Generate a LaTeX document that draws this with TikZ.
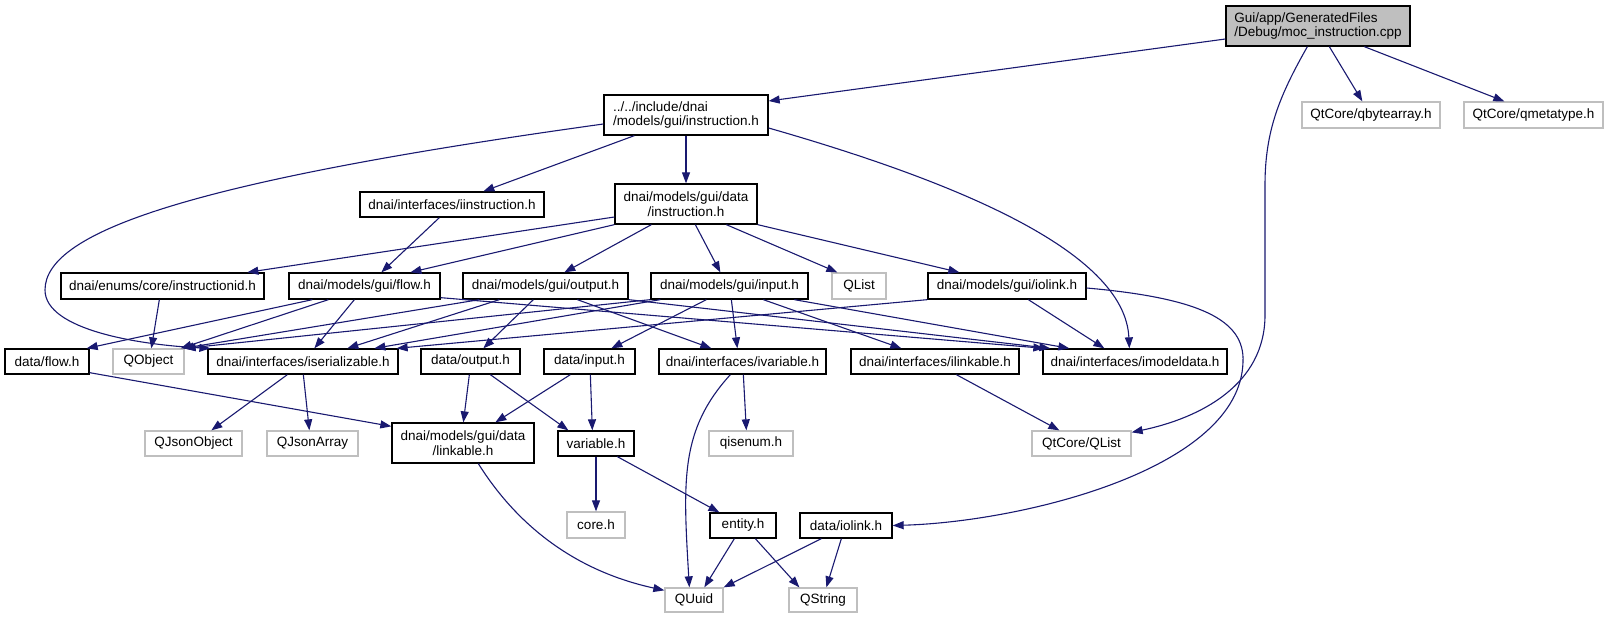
\documentclass[tikz,border=0pt]{standalone}
\usepackage{fontspec}
\setmainfont{Liberation Sans}
\usetikzlibrary{arrows.meta}
\definecolor{edgeblue}{HTML}{191970}
\definecolor{extgray}{HTML}{BFBFBF}
\tikzset{
  boxbase/.style={line width=1.3pt, fill=white, inner sep=0pt, font=\fontsize{13.5}{14.5}\selectfont},
  hdr/.style={boxbase, draw=black},
  ext/.style={boxbase, draw=extgray},
  root/.style={boxbase, draw=black, fill=extgray},
  dep/.style={draw=edgeblue, line width=1.1pt, -{Triangle[length=11pt,width=8pt]}}
}
\newcommand{\mybox}[7]{\node[#1, minimum width={#4-#3}, minimum height={#6-#5}] (#2) at ({(#3+#4)/2},{(#5+#6)/2}) {#7};}
\begin{document}
\begin{tikzpicture}[x=1pt,y=-1pt]
\useasboundingbox (0,0) rectangle (1609,619);
% rank 0/1
\mybox{root,align=left}{moc}{1226}{1410}{6}{46}{Gui/app/GeneratedFiles\\/Debug/moc\_instruction.cpp}
\mybox{hdr,align=left}{instr}{604}{768}{95}{135}{../../include/dnai\\/models/gui/instruction.h}
\mybox{ext}{qba}{1302}{1440}{102}{128}{QtCore/qbytearray.h}
\mybox{ext}{qmt}{1464}{1603}{102}{128}{QtCore/qmetatype.h}
% rank 2
\mybox{hdr}{iinstr}{360}{544}{192}{217}{dnai/interfaces/iinstruction.h}
\mybox{hdr,align=center}{datainstr}{615}{757}{184}{224}{dnai/models/gui/data\\/instruction.h}
% rank 3
\mybox{hdr}{instrid}{61}{264}{273}{299}{dnai/enums/core/instructionid.h}
\mybox{hdr}{flow}{289}{440}{273}{299}{dnai/models/gui/flow.h}
\mybox{hdr}{output}{463}{628}{273}{299}{dnai/models/gui/output.h}
\mybox{hdr}{input}{651}{808}{273}{299}{dnai/models/gui/input.h}
\mybox{ext}{qlist}{832}{886}{273}{299}{QList}
\mybox{hdr}{iolink}{928}{1086}{273}{299}{dnai/models/gui/iolink.h}
% rank 4
\mybox{hdr}{dataflow}{5}{89}{349}{374}{data/flow.h}
\mybox{ext}{qobject}{113}{184}{349}{374}{QObject}
\mybox{hdr}{iser}{208}{398}{349}{374}{dnai/interfaces/iserializable.h}
\mybox{hdr}{dataoutput}{421}{520}{349}{374}{data/output.h}
\mybox{hdr}{datainput}{544}{635}{349}{374}{data/input.h}
\mybox{hdr}{ivar}{659}{826}{349}{374}{dnai/interfaces/ivariable.h}
\mybox{hdr}{ilink}{851}{1019}{349}{374}{dnai/interfaces/ilinkable.h}
\mybox{hdr}{imodel}{1043}{1227}{349}{374}{dnai/interfaces/imodeldata.h}
% rank 5
\mybox{ext}{qjo}{145}{242}{431}{456}{QJsonObject}
\mybox{ext}{qja}{267}{358}{431}{456}{QJsonArray}
\mybox{hdr,align=center}{linkable}{392}{534}{423}{463}{dnai/models/gui/data\\/linkable.h}
\mybox{hdr}{variable}{558}{634}{431}{456}{variable.h}
\mybox{ext}{qisenum}{709}{793}{431}{456}{qisenum.h}
\mybox{ext}{qtlist}{1032}{1131}{431}{456}{QtCore/QList}
% rank 6
\mybox{ext}{core}{567}{625}{512}{538}{core.h}
\mybox{hdr}{entity}{710}{776}{513}{538}{entity.h}
\mybox{hdr}{dataiolink}{800}{892}{513}{538}{data/iolink.h}
% rank 7
\mybox{ext}{quuid}{665}{723}{588}{612}{QUuid}
\mybox{ext}{qstring}{789}{857}{588}{612}{QString}

% edges from moc
\draw[dep] ([yshift=-13pt]moc.west) -- ([yshift=14pt]instr.east);
\draw[dep] ([xshift=104pt]moc.south west) -- ([xshift=61pt]qba.north west);
\draw[dep] ([xshift=139pt]moc.south west) -- ([xshift=41pt]qmt.north west);
\draw[dep] ([xshift=82pt]moc.south west) .. controls (1280,95) and (1265,130) .. (1265,185) -- (1265,315) .. controls (1265,385) and (1200,418) .. ([yshift=-2pt]qtlist.north east);
% edges from instr
\draw[dep] ([xshift=31pt]instr.south west) -- ([xshift=124pt]iinstr.north west);
\draw[dep] (instr.south) -- (datainstr.north);
\draw[dep] ([yshift=-9pt]instr.west) .. controls (200,180) and (45,230) .. (45,290) .. controls (45,330) and (140,345) .. ([xshift=3pt]iser.north west);
\draw[dep] ([yshift=-13pt]instr.east) .. controls (950,180) and (1125,250) .. ([xshift=87pt]imodel.north west);
% iinstruction
\draw[dep] ([xshift=80pt]iinstr.south west) -- ([xshift=93pt]flow.north west);
% data instruction
\draw[dep] ([yshift=-13pt]datainstr.west) -- ([xshift=187pt]instrid.north west);
\draw[dep] (datainstr.south west) -- ([xshift=122pt]flow.north west);
\draw[dep] ([xshift=37pt]datainstr.south west) -- ([xshift=102pt]output.north west);
\draw[dep] ([xshift=81pt]datainstr.south west) -- ([xshift=70pt]input.north west);
\draw[dep] ([xshift=112pt]datainstr.south west) -- ([xshift=6pt]qlist.north west);
\draw[dep] (datainstr.south east) -- ([xshift=32pt]iolink.north west);
% rank 3 -> rank 4
\draw[dep] ([xshift=99pt]instrid.south west) -- ([xshift=39pt]qobject.north west);
\draw[dep] ([xshift=24pt]flow.south west) -- ([xshift=-3pt]dataflow.north east);
\draw[dep] ([xshift=40pt]flow.south west) -- ([xshift=-4pt]qobject.north east);
\draw[dep] ([xshift=66pt]flow.south west) -- ([xshift=107pt]iser.north west);
\draw[dep] ([yshift=2pt]flow.south east) -- ([xshift=2pt]imodel.north west);
\draw[dep] ([xshift=17pt]output.south west) -- ([xshift=-2pt]qobject.north east);
\draw[dep] ([xshift=37pt]output.south west) -- ([xshift=140pt]iser.north west);
\draw[dep] ([xshift=71pt]output.south west) -- ([xshift=63pt]dataoutput.north west);
\draw[dep] ([xshift=115pt]output.south west) -- ([xshift=53pt]ivar.north west);
\draw[dep] (output.south east) -- ([xshift=8pt]imodel.north west);
\draw[dep] (input.south west) -- (qobject.north east);
\draw[dep] ([xshift=10pt]input.south west) -- ([xshift=167pt]iser.north west);
\draw[dep] ([xshift=56pt]input.south west) -- ([xshift=68pt]datainput.north west);
\draw[dep] ([xshift=81pt]input.south west) -- ([xshift=79pt]ivar.north west);
\draw[dep] ([xshift=113pt]input.south west) -- ([xshift=51pt]ilink.north west);
\draw[dep] ([xshift=144pt]input.south west) -- ([xshift=27pt]imodel.north west);
\draw[dep] (iolink.south west) -- ([xshift=-2pt]iser.north east);
\draw[dep] ([xshift=101pt]iolink.south west) -- ([xshift=62pt]imodel.north west);
\draw[dep] ([yshift=-2pt]iolink.east) .. controls (1200,298) and (1245,320) .. (1243,362) .. controls (1240,470) and (1020,522) .. (dataiolink.east);
% rank 4 -> lower
\draw[dep] ([yshift=2pt]dataflow.south east) -- ([yshift=-4pt]linkable.north west);
\draw[dep] ([xshift=80pt]iser.south west) -- ([xshift=67pt]qjo.north west);
\draw[dep] ([xshift=96pt]iser.south west) -- ([xshift=43pt]qja.north west);
\draw[dep] ([xshift=49pt]dataoutput.south west) -- ([xshift=72pt]linkable.north west);
\draw[dep] ([xshift=70pt]dataoutput.south west) -- ([xshift=11pt]variable.north west);
\draw[dep] ([xshift=27pt]datainput.south west) -- ([xshift=104pt]linkable.north west);
\draw[dep] ([xshift=47pt]datainput.south west) -- ([xshift=35pt]variable.north west);
\draw[dep] ([xshift=72pt]ivar.south west) .. controls (680,430) and (683,480) .. ([xshift=25pt]quuid.north west);
\draw[dep] ([xshift=85pt]ivar.south west) -- ([xshift=38pt]qisenum.north west);
\draw[dep] ([xshift=106pt]ilink.south west) -- ([xshift=28pt]qtlist.north west);
\draw[dep] ([xshift=87pt]linkable.south west) .. controls (520,530) and (580,572) .. ([yshift=-3pt]quuid.north west);
\draw[dep] (variable.south) -- (core.north);
\draw[dep] ([xshift=60pt]variable.south west) -- ([xshift=10pt]entity.north west);
\draw[dep] ([xshift=25pt]entity.south west) -- ([xshift=40pt]quuid.north west);
\draw[dep] ([xshift=46pt]entity.south west) -- ([xshift=11pt]qstring.north west);
\draw[dep] ([xshift=22pt]dataiolink.south west) -- (quuid.north east);
\draw[dep] ([xshift=42pt]dataiolink.south west) -- ([xshift=38pt]qstring.north west);
\end{tikzpicture}
\end{document}
